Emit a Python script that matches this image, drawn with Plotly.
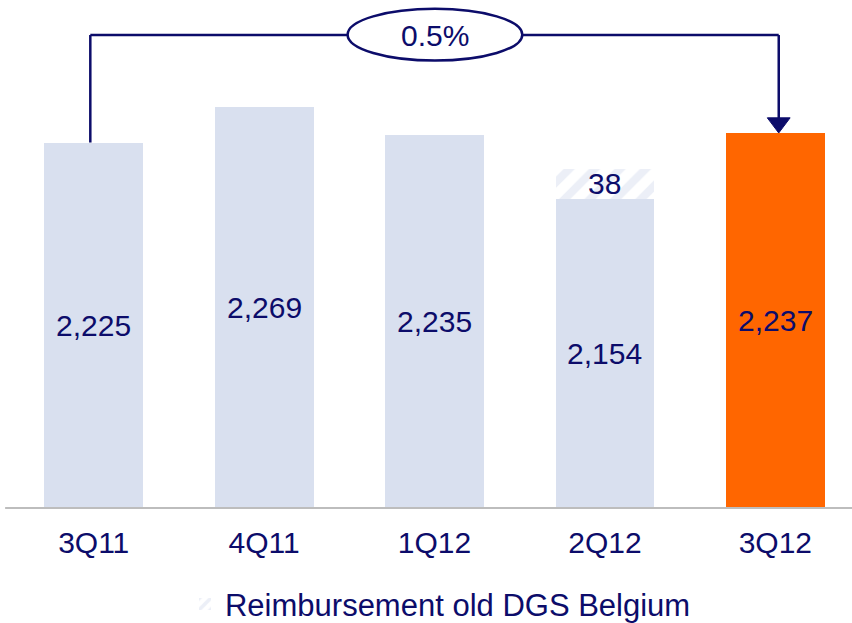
import plotly.graph_objects as go

quarters = ["3Q11", "4Q11", "1Q12", "2Q12", "3Q12"]
underlying = [2225, 2269, 2235, 2154, 2237]
reimbursement = [0, 0, 0, 38, 0]
growth_label = "0.5%"
legend_label = "Reimbursement old DGS Belgium"

NAVY = "#0C0C6A"
LIGHT = "#D9E0EF"
ORANGE = "#FF6600"
FONT = "Liberation Sans, Arial, sans-serif"
Y_MIN, Y_MAX = 1766, 2404

bar_colors = [LIGHT] * 4 + [ORANGE]

fig = go.Figure()
fig.add_trace(go.Bar(
    x=quarters, y=underlying,
    marker=dict(color=bar_colors, line=dict(width=0)),
    width=0.58, hoverinfo="x+y",
    showlegend=False,
))
fig.add_trace(go.Bar(
    x=quarters, y=reimbursement,
    name=legend_label,
    marker=dict(color="white",
                pattern=dict(shape="/", fgcolor=LIGHT, bgcolor="white",
                             size=18, solidity=0.45),
                line=dict(width=0)),
    width=0.58,
))

# value labels centred in the visible part of each segment (axis is cut)
for q, v, r in zip(quarters, underlying, reimbursement):
    fig.add_annotation(x=q, y=(Y_MIN + v) / 2, text=f"{v:,}", showarrow=False,
                       font=dict(family=FONT, size=30, color=NAVY))
    if r:
        fig.add_annotation(x=q, y=v + r / 2, text=str(r), showarrow=False,
                           font=dict(family=FONT, size=30, color=NAVY))

# growth bracket from first to last quarter
y_line = 2360
first, last = underlying[0], underlying[-1] + reimbursement[-1]
line = dict(color=NAVY, width=2.5)
fig.add_shape(type="line", x0=-0.02, x1=-0.02, y0=first, y1=y_line, line=line)
fig.add_shape(type="line", x0=-0.02, x1=4.02, y0=y_line, y1=y_line, line=line)
fig.add_shape(type="line", x0=4.02, x1=4.02, y0=y_line, y1=last + 15, line=line)
fig.add_shape(type="path",
              path=f"M 3.953 {last + 19} L 4.087 {last + 19} L 4.02 {last} Z",
              fillcolor=NAVY, line=dict(color=NAVY, width=1))
fig.add_shape(type="circle", x0=1.49, x1=2.515, y0=2328, y1=2393,
              fillcolor="white", line=line)
fig.add_annotation(x=2.0, y=y_line, text=growth_label, showarrow=False,
                   font=dict(family=FONT, size=30, color=NAVY))

# baseline
fig.add_shape(type="line", xref="paper", yref="paper", x0=0.006, x1=1,
              y0=0, y1=0, line=dict(color="#BDBDBD", width=2))

fig.update_layout(
    width=852, height=623,
    barmode="stack",
    paper_bgcolor="white", plot_bgcolor="white",
    margin=dict(l=0, r=0, t=0, b=115, autoexpand=False),
    font=dict(family=FONT, color=NAVY),
    showlegend=True,
    legend=dict(orientation="h", x=0.517, xanchor="center",
                yref="container", y=0.03, yanchor="middle",
                font=dict(family=FONT, size=31, color=NAVY),
                itemwidth=30),
)
fig.update_xaxes(range=[-0.55, 4.45], showline=False, showgrid=False,
                 ticks="", ticklabelstandoff=14,
                 tickfont=dict(family=FONT, size=30, color=NAVY))
fig.update_yaxes(range=[Y_MIN, Y_MAX], visible=False, showgrid=False)

fig.write_html("out.html", config={"displayModeBar": False},
               post_script="document.body.style.margin='0';")
